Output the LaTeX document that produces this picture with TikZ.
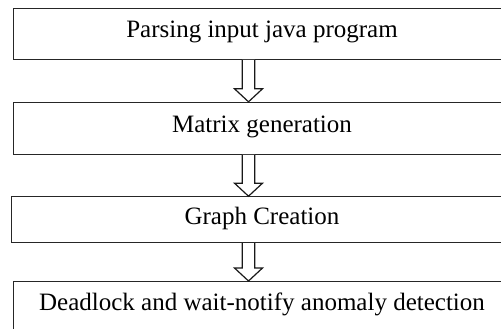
\documentclass[tikz,border=0pt]{standalone}
\usepackage{fontspec}
\setmainfont{Liberation Serif}
\usetikzlibrary{calc}

\tikzset{
  stagebox/.style={draw=black!85, line width=1pt, fill=white, inner sep=0pt,
                   minimum width=498pt},
  stagetext/.style={anchor=base, inner sep=0pt, font=\fontsize{25}{30}\selectfont},
  hollowarrow/.style={draw=black!90, line width=1.2pt, fill=white, line join=miter},
}

% hollow block arrow from the bottom of #1 to the top of #2, on the vertical line through (ax)
\newcommand{\blockarrow}[2]{%
  \draw[hollowarrow]
    ($(#1.south -| ax)+(-6.3,0)$) --
    ($(#2.north -| ax)+(-6.3,-13)$) --
    ($(#2.north -| ax)+(-14,-13)$) --
    (#2.north -| ax) --
    ($(#2.north -| ax)+(14,-13)$) --
    ($(#2.north -| ax)+(6.3,-13)$) --
    ($(#1.south -| ax)+(6.3,0)$);
}

\begin{document}
\begin{tikzpicture}[x=1pt, y=-1pt]
  \useasboundingbox (0,0) rectangle (501,329);
  \clip (0,0) rectangle (501,329);

  % stage boxes
  \node[stagebox, minimum height=50.5pt] (b1) at (262,34.25) {};
  \node[stagebox, minimum height=52pt]   (b2) at (262,128.3) {};
  \node[stagebox, minimum height=46pt, minimum width=500pt] (b3) at (261,219.7) {};
  \node[stagebox, minimum height=60pt]   (b4) at (262,311.5) {};

  % stage captions
  \node[stagetext] (t1) at (262,37.7)  {Parsing input java program};
  \node[stagetext] (t2) at (262,132.3) {Matrix generation};
  \node[stagetext] (t3) at (262,224)   {Graph Creation};
  \node[stagetext] (t4) at (262,310.7) {Deadlock and wait-notify anomaly detection};

  % arrows between the stages
  \coordinate (ax) at (248.5,0);
  \blockarrow{b1}{b2}
  \blockarrow{b2}{b3}
  \blockarrow{b3}{b4}
\end{tikzpicture}
\end{document}
